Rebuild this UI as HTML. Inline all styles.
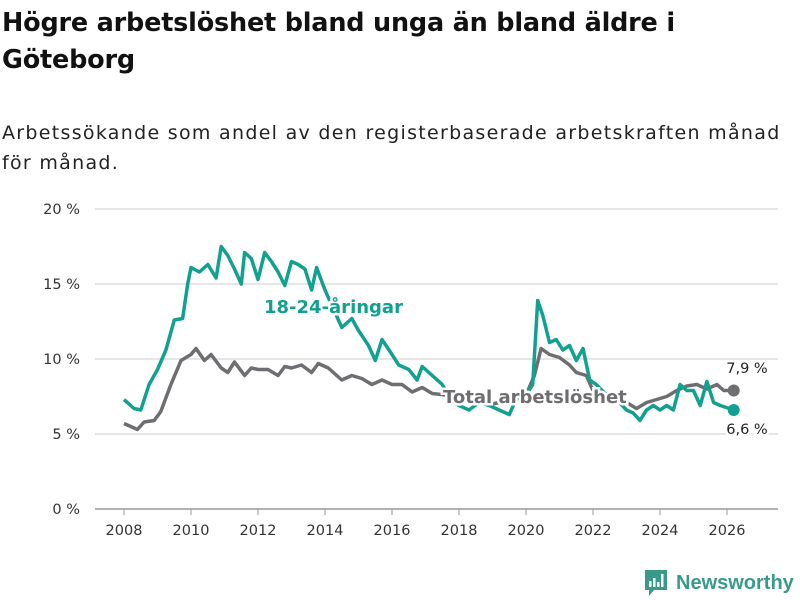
<!DOCTYPE html>
<html><head><meta charset="utf-8"><style>
body{margin:0;width:800px;height:600px;background:#fff;font-family:"DejaVu Sans","Liberation Sans",sans-serif;overflow:hidden}
h1{position:absolute;left:2px;top:5px;margin:0;font-size:25.5px;line-height:37px;font-weight:bold;color:#111;width:780px;letter-spacing:-0.2px}
.sub{position:absolute;left:2px;top:118px;font-size:19px;letter-spacing:1.3px;line-height:30px;color:#222;width:790px}
</style></head><body>
<h1>Högre arbetslöshet bland unga än bland äldre i Göteborg</h1>
<div class="sub">Arbetssökande som andel av den registerbaserade arbetskraften månad för månad.</div>
<svg id="c" width="800" height="600" style="position:absolute;left:0;top:0"></svg>
<script>
const yTicks=[0,5,10,15,20];
const xTicks=[2008,2010,2012,2014,2016,2018,2020,2022,2024,2026];
const youthX=[2008,2008.3,2008.5,2008.75,2009,2009.25,2009.5,2009.75,2009.9,2010,2010.25,2010.5,2010.75,2010.9,2011.1,2011.3,2011.5,2011.6,2011.8,2012,2012.2,2012.4,2012.6,2012.8,2013,2013.2,2013.4,2013.6,2013.75,2014,2014.5,2014.8,2015,2015.3,2015.5,2015.7,2016,2016.2,2016.5,2016.75,2016.9,2017.2,2017.5,2017.75,2018,2018.3,2018.6,2018.9,2019.2,2019.5,2019.7,2020,2020.2,2020.35,2020.5,2020.7,2020.9,2021.1,2021.3,2021.5,2021.7,2021.9,2022.1,2022.4,2022.7,2023,2023.2,2023.4,2023.6,2023.8,2024,2024.2,2024.4,2024.6,2024.8,2025,2025.2,2025.4,2025.6,2025.8,2026.2];
const youthY=[7.3,6.7,6.6,8.3,9.3,10.6,12.6,12.7,15,16.1,15.8,16.3,15.4,17.5,16.9,16,15,17.1,16.7,15.3,17.1,16.5,15.8,14.9,16.5,16.3,16,14.6,16.1,14.6,12.1,12.7,11.9,10.9,9.9,11.3,10.3,9.6,9.3,8.6,9.5,8.9,8.3,7.3,6.9,6.6,7.1,6.9,6.6,6.3,7.3,7.6,8.3,13.9,12.9,11.1,11.3,10.6,10.9,9.9,10.7,8.6,8.3,7.6,7.3,6.6,6.4,5.9,6.6,6.9,6.6,6.9,6.6,8.3,7.9,7.9,6.9,8.5,7.1,6.9,6.6];
const totX=[2008,2008.4,2008.6,2008.9,2009.1,2009.4,2009.7,2010,2010.15,2010.4,2010.6,2010.9,2011.1,2011.3,2011.6,2011.8,2012,2012.3,2012.6,2012.8,2013,2013.3,2013.6,2013.8,2014.1,2014.5,2014.8,2015.1,2015.4,2015.7,2016,2016.3,2016.6,2016.9,2017.2,2017.6,2018,2019,2019.6,2020,2020.25,2020.45,2020.7,2021,2021.3,2021.5,2021.8,2022,2022.5,2023,2023.3,2023.6,2023.9,2024.2,2024.5,2024.8,2025.1,2025.4,2025.7,2025.9,2026.2];
const totY=[5.7,5.3,5.8,5.9,6.5,8.3,9.9,10.3,10.7,9.9,10.3,9.4,9.1,9.8,8.9,9.4,9.3,9.3,8.9,9.5,9.4,9.6,9.1,9.7,9.4,8.6,8.9,8.7,8.3,8.6,8.3,8.3,7.8,8.1,7.7,7.6,7.3,7.0,7.3,7.6,8.9,10.7,10.3,10.1,9.6,9.1,8.9,7.9,7.6,7.1,6.7,7.1,7.3,7.5,7.9,8.2,8.3,8.0,8.3,7.9,7.9];
const sx=v=>124+(v-2008)*33.5, sy=v=>509-v*15;
const svg=document.getElementById('c'),NS='http://www.w3.org/2000/svg';
function mk(t,a,p){const e=document.createElementNS(NS,t);for(const k in a)e.setAttribute(k,a[k]);(p||svg).appendChild(e);return e;}
yTicks.forEach(v=>{
 const l=mk('line',{x1:95,x2:778,y1:sy(v),y2:sy(v),stroke:v==0?'#999':'#ddd','stroke-width':1.5});
 
 
 const t=mk('text',{x:80,y:sy(v)+5,'text-anchor':'end','font-size':14.5,fill:'#333'});t.textContent=v+' %';
 
 
});
xTicks.forEach(v=>{
 const l=mk('line',{x1:sx(v),x2:sx(v),y1:509,y2:515,stroke:'#999'});
 
 
 const t=mk('text',{x:sx(v),y:535,'text-anchor':'middle','font-size':14.5,fill:'#333'});t.textContent=v;
 
 
});
function line(xs,ys,c,name){
 const p=mk('path',{d:xs.map((x,i)=>(i?'L':'M')+sx(x).toFixed(1)+','+sy(ys[i]).toFixed(1)).join(''),fill:'none',stroke:c,'stroke-width':3.5,'stroke-linejoin':'round'});
 
 
 const d=mk('circle',{cx:sx(xs[xs.length-1]),cy:sy(ys[ys.length-1]),r:6,fill:c});
 
 
}
line(totX,totY,'#6e6e72','total-line');
line(youthX,youthY,'#12a090','youth-line');
function lab(x,y,s,c,name,fs,w,anchor){
 const t=mk('text',{x:x,y:y,'font-size':fs,'font-weight':w,fill:c,stroke:'#fff','stroke-width':5,'paint-order':'stroke','text-anchor':anchor||'start'});t.textContent=s;
 
 
}
lab(264,313,'18-24-åringar','#12a090','youth-label',18,'bold');
lab(443,403,'Total arbetslöshet','#6e6e72','total-label',18,'bold');
lab(747,373,'7,9 %','#222','total-end-value',14.5,'normal','middle');
lab(747,434,'6,6 %','#222','youth-end-value',14.5,'normal','middle');
</script>
<div style="position:absolute;left:644px;top:569px;display:flex;align-items:center">
<svg width="24" height="28" viewBox="0 0 24 28"><path d="M1 1h22v20H10l-5 6v-6H1z" fill="#3a9a8a"/><rect x="5" y="12" width="2.5" height="6" fill="#fff"/><rect x="9" y="9" width="2.5" height="9" fill="#fff"/><rect x="13" y="13" width="2.5" height="5" fill="#fff"/><rect x="17" y="5" width="2.5" height="13" fill="#fff"/></svg>
<span style="margin-left:8px;font-size:20px;font-weight:bold;color:#3a9a8a;font-family:'Liberation Sans',sans-serif">Newsworthy</span></div>
</body></html>
